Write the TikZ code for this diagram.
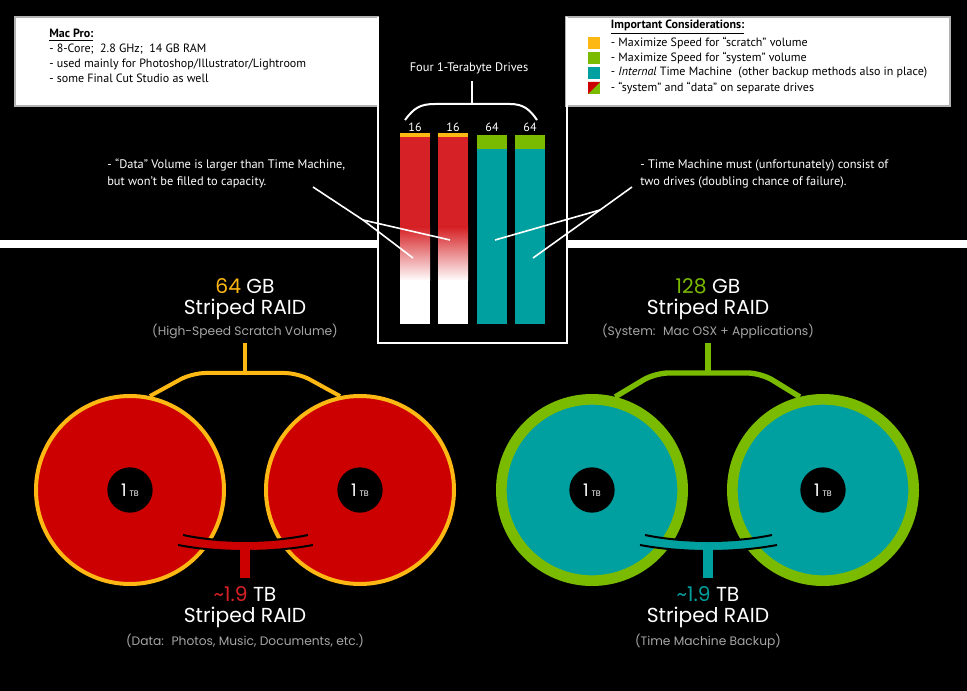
\documentclass[tikz,border=0pt]{standalone}
\usepackage{fontspec}
\setmainfont{PT Sans}
\newfontfamily\gothic{Poppins}
\usetikzlibrary{positioning}
\definecolor{scratchorange}{RGB}{253,184,19}
\definecolor{systemgreen}{RGB}{122,187,0}
\definecolor{tmteal}{RGB}{0,160,160}
\definecolor{datared}{RGB}{204,0,0}
\definecolor{barred}{RGB}{214,34,38}
\definecolor{notegray}{RGB}{165,165,165}

\begin{document}
\begin{tikzpicture}[
    x=0.75pt, y=-0.75pt,
    boxtext/.style={inner sep=0, align=left, font=\fontsize{9}{11.2}\selectfont, text=black},
    legendsq/.style={rectangle, inner sep=0, minimum size=8.6pt},
    notetext/.style={inner sep=0, align=left, font=\fontsize{9.3}{12.8}\selectfont, text=white},
    drivenum/.style={inner sep=0, font=\fontsize{9}{10}\selectfont, text=white},
    raidnum/.style={inner sep=0, text height=0.74em, text depth=0.2em, font=\gothic\fontsize{15.2}{16}\selectfont, text=white},
    raidnote/.style={inner sep=0, font=\gothic\fontsize{9.2}{10}\selectfont, text=notegray},
    reddisk/.style={circle, inner sep=0, minimum size=141pt, fill=datared, draw=scratchorange, line width=3pt},
    tealdisk/.style={circle, inner sep=0, minimum size=136pt, fill=tmteal, draw=systemgreen, line width=8pt},
    hub/.style={circle, inner sep=0, minimum size=34pt, fill=black, text=white},
    pointer/.style={white, line width=1.2pt},
    bracket/.style={white, line width=1.5pt}
]
% Background
\fill[black] (0,0) rectangle (967,691);
\useasboundingbox (0,0) rectangle (967,691);

% Info boxes
\filldraw[fill=white, draw=gray!60, line width=0.8pt] (15,17) rectangle (378,106);
\filldraw[fill=white, draw=gray!60, line width=0.8pt] (566,17) rectangle (950,106);
\node[boxtext, anchor=north west] (macpro) at (49,29) {\underline{\textbf{Mac Pro:}}\\- 8-Core;~ 2.8 GHz;~ 14 GB RAM\\- used mainly for Photoshop/Illustrator/Lightroom\\- some Final Cut Studio as well};

\node[legendsq, fill=scratchorange] (sq1) at (594,43) {};
\node[legendsq, fill=systemgreen] (sq2) at (594,58) {};
\node[legendsq, fill=tmteal] (sq3) at (594,73) {};
\node[legendsq, fill=systemgreen] (sq4) at (594,88) {};
\fill[datared] (sq4.north west) -- (sq4.north east) -- (sq4.south west) -- cycle;
\node[boxtext, anchor=west, right=8pt of sq1] (tip1) {- Maximize Speed for “scratch” volume};
\node[boxtext, anchor=west, right=8pt of sq2] (tip2) {- Maximize Speed for “system” volume};
\node[boxtext, anchor=west, right=8pt of sq3] (tip3) {- \textit{Internal} Time Machine~ (other backup methods also in place)};
\node[boxtext, anchor=west, right=8pt of sq4] (tip4) {- “system” and “data” on separate drives};
\node[boxtext, anchor=south west] (tiptitle) at ([yshift=2pt]tip1.north west) {\underline{\textbf{Important Considerations:}}};

% Band and drive frame
\fill[white] (0,240) rectangle (378,248);
\fill[white] (567,240) rectangle (967,248);
\draw[white, line width=1.9pt] (378,17) -- (378,343) -- (567,343) -- (567,17);

% Drives
\node[notetext] (drives) at (469,68) {Four 1-Terabyte Drives};
\coordinate (braceL) at (405,120);
\coordinate (braceR) at (537,120);
\coordinate (braceM) at (472,104);
\draw[bracket] (braceL) .. controls (414,108) and (420,104) .. (435,104) -- (510,104) .. controls (524,104) and (530,110) .. (braceR);
\draw[bracket] (braceM) -- (472,81);

\fill[barred] (400,137) rectangle (430,228);
\shade[top color=barred, bottom color=white] (400,227) rectangle (430,281);
\fill[white] (400,280) rectangle (430,324);
\fill[scratchorange] (400,133) rectangle (430,137);
\fill[barred] (438,137) rectangle (468,228);
\shade[top color=barred, bottom color=white] (438,227) rectangle (468,281);
\fill[white] (438,280) rectangle (468,324);
\fill[scratchorange] (438,133) rectangle (468,137);
\fill[systemgreen] (477,135) rectangle (507,149);
\fill[tmteal] (477,149) rectangle (507,324);
\fill[systemgreen] (515,135) rectangle (545,149);
\fill[tmteal] (515,149) rectangle (545,324);

\node[drivenum] (n1) at (415,127) {16};
\node[drivenum] (n2) at (453,127) {16};
\node[drivenum] (n3) at (492,127) {64};
\node[drivenum] (n4) at (530,127) {64};

% Notes with pointers
\node[notetext, anchor=north west] (datanote) at (107,159) {- “Data” Volume is larger than Time Machine,\\but won’t be filled to capacity.};
\node[notetext, anchor=north west] (tmnote) at (640,159) {- Time Machine must (unfortunately) consist of\\two drives (doubling chance of failure).};
\coordinate (datatip) at (313,187);
\coordinate (dataknee) at (363,220);
\coordinate (bar1pt) at (413,258);
\coordinate (bar2pt) at (450,240);
\draw[pointer] (datatip) -- (dataknee) -- (bar1pt);
\draw[pointer] (dataknee) -- (bar2pt);
\coordinate (tmtip) at (632,187);
\coordinate (tmknee) at (600,210);
\coordinate (bar3pt) at (495,240);
\coordinate (bar4pt) at (533,258);
\draw[pointer] (tmtip) -- (tmknee) -- (bar4pt);
\draw[pointer] (tmknee) -- (bar3pt);

% Upper RAID labels
\node[raidnum] (scratchnum) at (245,290) {\textcolor{scratchorange}{64} GB};
\node[raidnum] (scratchtitle) at (245,311) {Striped RAID};
\node[raidnote] (scratchnote) at (245,331) {(High-Speed Scratch Volume)};
\node[raidnum] (systemnum) at (708,290) {\textcolor{systemgreen}{128} GB};
\node[raidnum] (systemtitle) at (708,311) {Striped RAID};
\node[raidnote] (systemnote) at (708,331) {(System:~ Mac OSX + Applications)};

% Disks
\node[reddisk] (disk1) at (130,490) {};
\node[reddisk] (disk2) at (360,490) {};
\node[tealdisk] (disk3) at (592,490) {};
\node[tealdisk] (disk4) at (823,490) {};

% Top brackets
\coordinate (scratchknee) at (245,373);
\draw[scratchorange, line width=3pt] (scratchnote.south) ++(0,4) -- (scratchknee);
\draw[scratchorange, line width=3pt, rounded corners=10pt] (disk1.78) -- (192,373) -- (298,373) -- (disk2.102);
\coordinate (systemknee) at (708,373);
\draw[systemgreen, line width=4pt] (systemnote.south) ++(0,4) -- (systemknee);
\draw[systemgreen, line width=4pt, rounded corners=10pt] (disk3.76) -- (655,373) -- (761,373) -- (disk4.104);

% Hubs
\foreach \d in {disk1, disk2, disk3, disk4}
  \node[hub] (hub-\d) at (\d) {\gothic\fontsize{13}{13}\selectfont 1\,\fontsize{6}{6}\selectfont TB};

% Bottom joints
\coordinate (dataT) at (245,547);
\coordinate (dataB) at (245,578);
\fill[datared] (183,535) .. controls (220,543) and (270,543) .. (308,535) -- (313,545) .. controls (270,553) and (220,553) .. (178,545) -- cycle;
\draw[black, line width=1.5pt] (183,535) .. controls (220,543) and (270,543) .. (308,535);
\draw[black, line width=1.5pt] (178,545) .. controls (220,553) and (270,553) .. (313,545);
\draw[datared, line width=7.5pt] (dataT) -- (dataB);
\coordinate (tmT) at (708,547);
\coordinate (tmB) at (708,578);
\fill[tmteal] (645,535) .. controls (683,543) and (734,543) .. (772,535) -- (777,545) .. controls (734,553) and (683,553) .. (640,545) -- cycle;
\draw[black, line width=1.5pt] (645,535) .. controls (683,543) and (734,543) .. (772,535);
\draw[black, line width=1.5pt] (640,545) .. controls (683,553) and (734,553) .. (777,545);
\draw[tmteal, line width=7.5pt] (tmT) -- (tmB);

% Lower RAID labels
\node[raidnum] (datanum) at (245,598) {\textcolor{barred}{\textasciitilde1.9} TB};
\node[raidnum] (datatitle) at (245,619) {Striped RAID};
\node[raidnote] (datanote2) at (245,641) {(Data:~ Photos, Music, Documents, etc.)};
\node[raidnum] (tmnum) at (708,598) {\textcolor{tmteal}{\textasciitilde1.9} TB};
\node[raidnum] (tmtitle) at (708,619) {Striped RAID};
\node[raidnote] (tmnote2) at (708,641) {(Time Machine Backup)};
\end{tikzpicture}
\end{document}
